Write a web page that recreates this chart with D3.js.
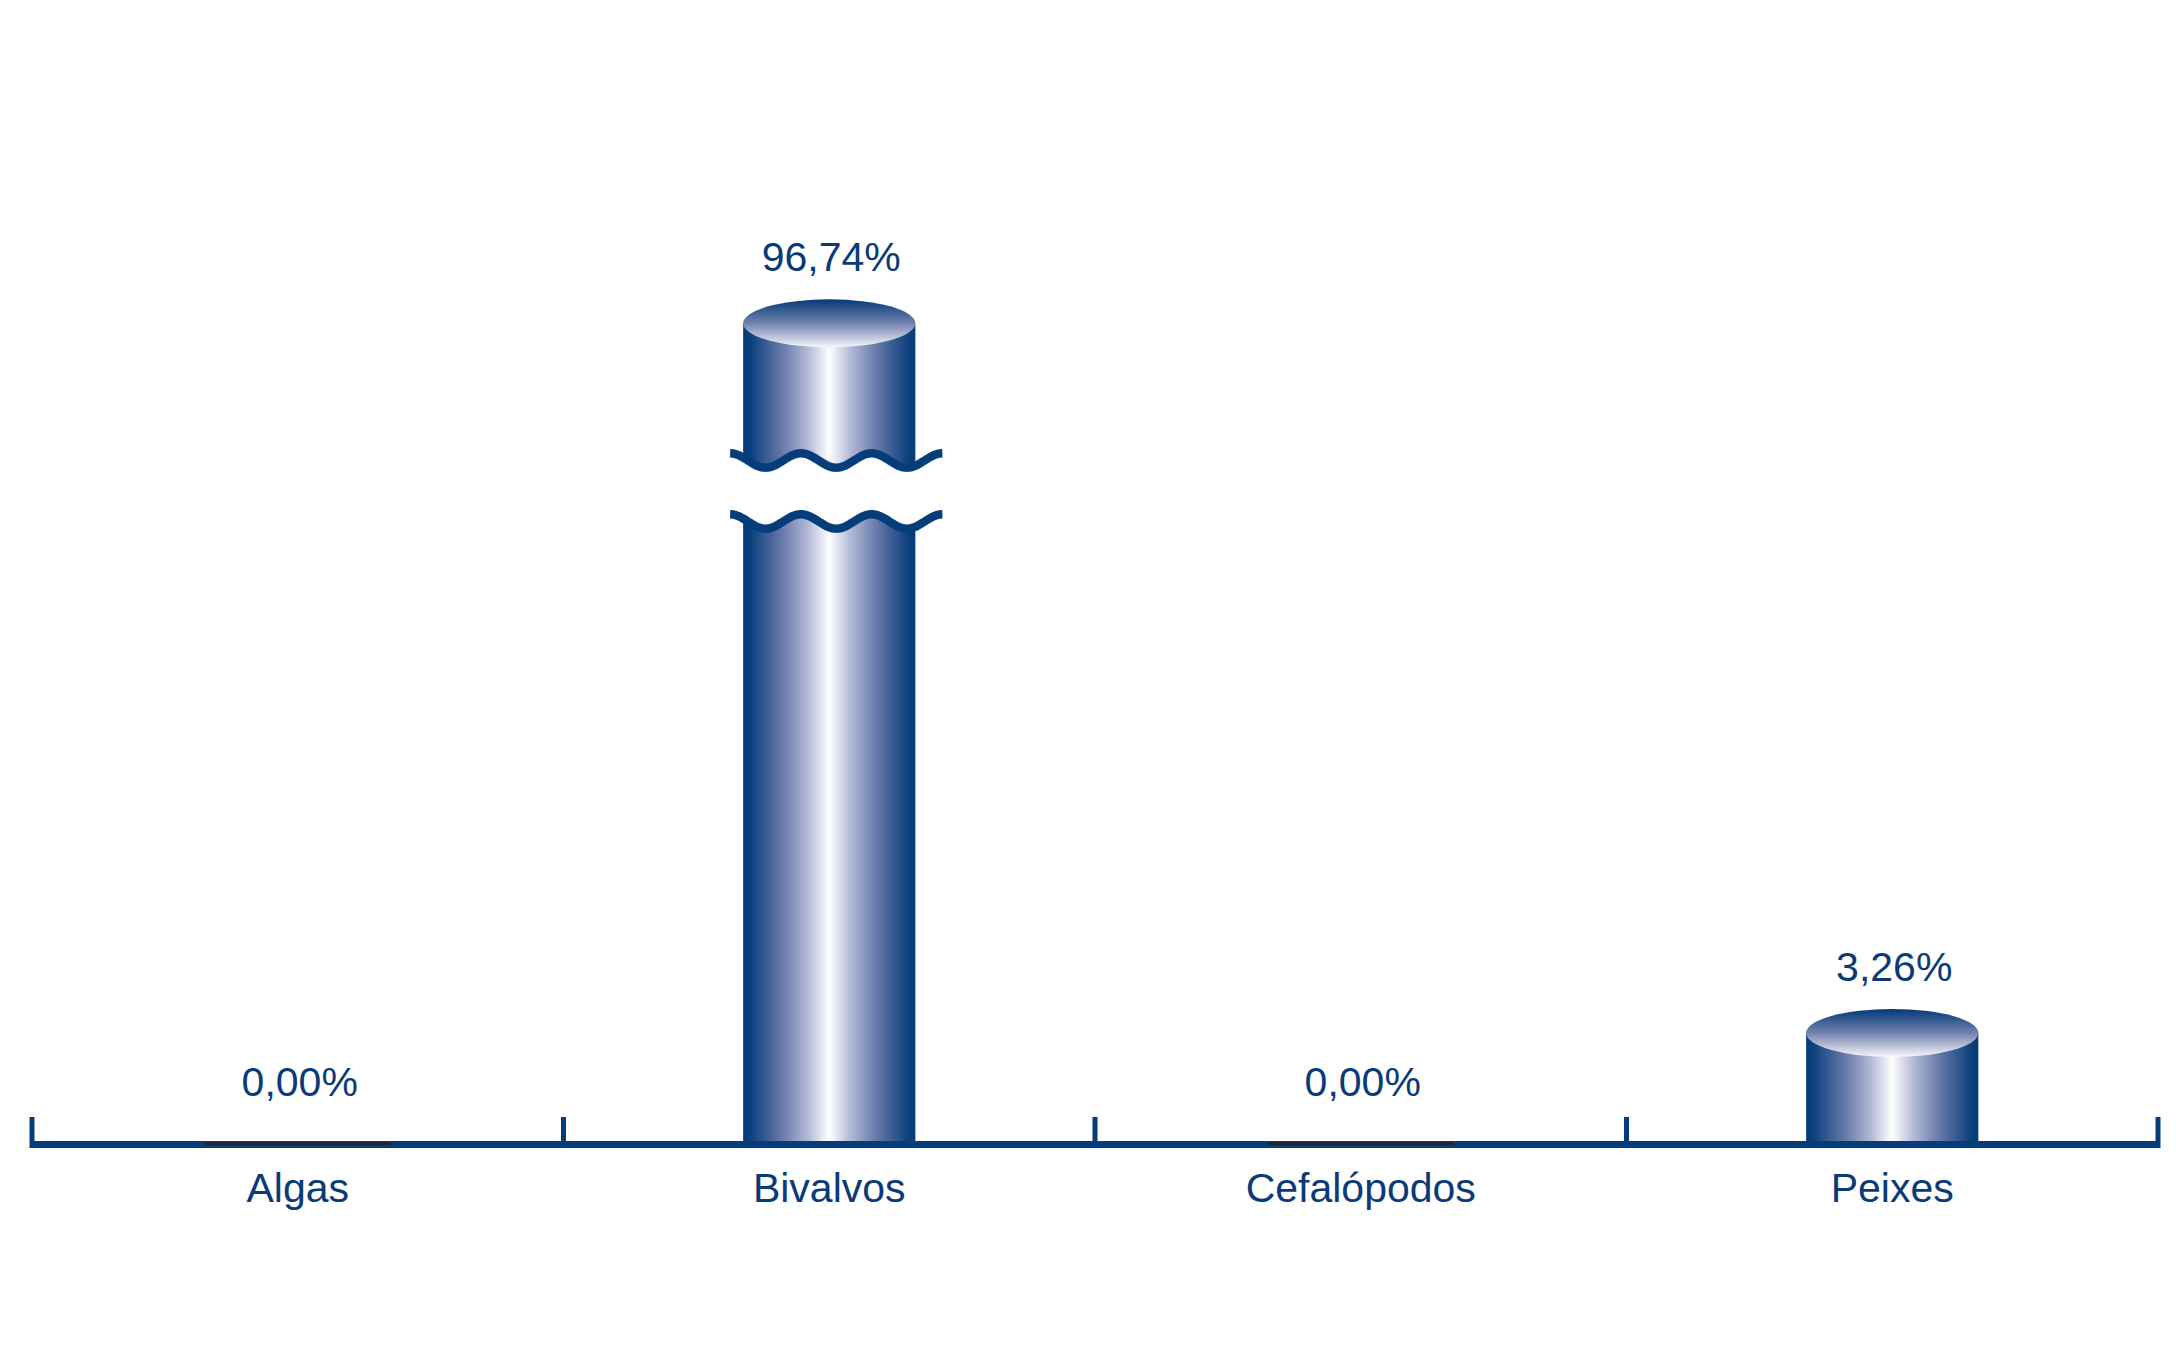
<!DOCTYPE html>
<html>
<head>
<meta charset="utf-8">
<script src="https://cdn.jsdelivr.net/npm/d3@7"></script>
<style>
  html, body { margin: 0; padding: 0; background: #ffffff; }
  svg { display: block; }
  text { font-family: "Liberation Sans", Arial, sans-serif; }
</style>
</head>
<body>
<div id="chart"></div>
<script>
// ---- data ----
const categories = ["Algas", "Bivalvos", "Cefalópodos", "Peixes"];
const values = [0.00, 96.74, 0.00, 3.26];
// axis break (values hidden between these two)
const breakLow = 18.7;
const breakHigh = 92.6;

// ---- layout ----
const W = 2176, H = 1350;
const baseY = 1141;
const pxPerUnit = 33.13;
const breakGap = 61;
const blue = "#053d7a";
const textBlue = "#0b3b76";

const svg = d3.select("#chart").append("svg")
  .attr("width", W).attr("height", H)
  .attr("viewBox", `0 0 ${W} ${H}`);
svg.append("rect").attr("width", W).attr("height", H).attr("fill", "#fff");

const x = d3.scaleBand().domain(categories).range([32, 2158]).paddingInner(0).paddingOuter(0);
const yLow = baseY - breakLow * pxPerUnit;
const yHigh = yLow - breakGap;
const y = d3.scaleLinear()
  .domain([0, breakLow, breakHigh, breakHigh + 10])
  .range([baseY, yLow, yHigh, yHigh - 10 * pxPerUnit]);

const locale = d3.formatLocale({ decimal: ",", thousands: ".", grouping: [3], currency: ["", "€"] });
const fmt = v => locale.format(".2f")(v) + "%";

// ---- gradients ----
const defs = svg.append("defs");
const gBody = defs.append("linearGradient").attr("id", "gBody")
  .attr("x1", "0%").attr("x2", "100%").attr("y1", "0%").attr("y2", "0%");
[[0, "#043a77"], [0.04, "#0b407d"], [0.22, "#6477a8"], [0.38, "#b4bbd8"], [0.5, "#ffffff"],
 [0.62, "#b4bbd8"], [0.78, "#6477a8"], [0.96, "#0b407d"], [1, "#043a77"]]
  .forEach(([o, c]) => gBody.append("stop").attr("offset", o).attr("stop-color", c));
const gTop = defs.append("linearGradient").attr("id", "gTop")
  .attr("x1", "0%").attr("x2", "0%").attr("y1", "0%").attr("y2", "100%");
[[0, "#043a77"], [0.5, "#7282b0"], [1, "#f6f6fb"]]
  .forEach(([o, c]) => gTop.append("stop").attr("offset", o).attr("stop-color", c));

const barW = x.bandwidth() * 0.324;
const zeroW = x.bandwidth() * 0.35;
const ry = 24;

const data = categories.map((c, i) => ({ cat: c, v: values[i] }));

// ---- bars ----
const bars = svg.append("g");
data.forEach(d => {
  const cx = x(d.cat) + x.bandwidth() / 2;
  if (d.v <= 0) return;
  const top = y(d.v);
  bars.append("rect")
    .attr("x", cx - barW / 2).attr("y", top).attr("width", barW).attr("height", baseY - top)
    .attr("fill", "url(#gBody)");
  bars.append("ellipse")
    .attr("cx", cx).attr("cy", top).attr("rx", barW / 2).attr("ry", ry)
    .attr("fill", "url(#gTop)");

  if (d.v > breakHigh) {
    const x0 = cx - barW / 2 - 13, x1 = cx + barW / 2 + 27;
    const P = (x1 - x0) / 3, A = 7.2;
    const wave = (cy) => d3.range(0, 181).map(k => {
      const xx = x0 + (x1 - x0) * k / 180;
      return [xx, cy - A * Math.cos(2 * Math.PI * (xx - x0) / P)];
    });
    const w1 = wave(y(breakHigh)), w2 = wave(y(breakLow));
    const poly = w1.concat(w2.slice().reverse());
    bars.append("path").attr("d", d3.line()(poly) + "Z").attr("fill", "#fff");
    [w1, w2].forEach(w => bars.append("path")
      .attr("d", d3.line()(w)).attr("fill", "none")
      .attr("stroke", blue).attr("stroke-width", 8.5));
  }
});

// ---- axis ----
const axisG = svg.append("g");
axisG.append("rect").attr("x", 30).attr("y", 1141).attr("width", 2130).attr("height", 7).attr("fill", blue);
const tickXs = categories.map(c => x(c)).concat([x.range()[1]]);
tickXs.forEach(tx => axisG.append("rect")
  .attr("x", tx - 2.5).attr("y", 1117).attr("width", 5).attr("height", 31).attr("fill", blue));

// zero-value bars drawn as thin dark lines on the axis
data.filter(d => d.v <= 0).forEach(d => {
  const cx = x(d.cat) + x.bandwidth() / 2;
  axisG.append("rect")
    .attr("x", cx - zeroW / 2).attr("y", 1142).attr("width", zeroW).attr("height", 3)
    .attr("fill", "#1d2436");
});

// ---- labels ----
svg.append("g").selectAll("text.val").data(data).join("text")
  .attr("class", "val")
  .attr("x", d => x(d.cat) + x.bandwidth() / 2 + 2)
  .attr("y", d => y(d.v) - (d.v > 0 ? 52 : 45))
  .attr("text-anchor", "middle")
  .attr("font-size", 41)
  .attr("fill", textBlue)
  .text(d => fmt(d.v));

svg.append("g").selectAll("text.cat").data(categories).join("text")
  .attr("class", "cat")
  .attr("x", d => x(d) + x.bandwidth() / 2)
  .attr("y", 1202)
  .attr("text-anchor", "middle")
  .attr("font-size", 41)
  .attr("fill", textBlue)
  .text(d => d);
</script>
</body>
</html>
